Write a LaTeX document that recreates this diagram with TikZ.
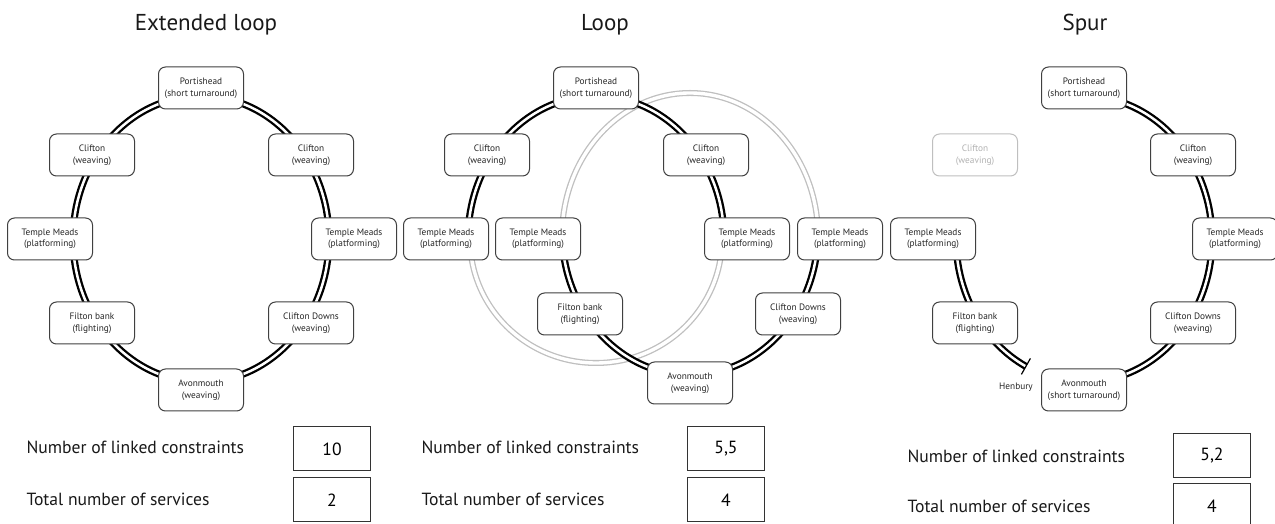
\documentclass[tikz,border=0pt]{standalone}
\usepackage{fontspec}
\setmainfont{PT Sans}
\usepackage{tikz}
\usetikzlibrary{calc}
\tikzset{
  stn/.style = {draw=black!75, fill=white, rounded corners=7pt, align=center,
    minimum width=85pt, minimum height=42pt, inner sep=1pt, line width=1pt,
    font=\fontsize{9.3}{11.5}\selectfont, text=black!85},% station box
  stn_off/.style = {stn, draw=black!25, text=black!30},% station not used
  trk/.style = {draw=black, double=white, line width=2.3pt,
    double distance=2.5pt},% track
  trk_g/.style = {draw=black!25, double=white, line width=1.3pt,
    double distance=3.4pt},% ghost track
  ttl/.style = {font=\fontsize{23}{27}\selectfont, text=black!90},
  lbl/.style = {anchor=west, font=\fontsize{17.6}{20}\selectfont, text=black!90},
  numbox/.style = {draw=black!80, line width=1pt, minimum width=77pt,
    minimum height=44pt, font=\fontsize{17.6}{20}\selectfont}
}

\begin{document}
\begin{tikzpicture}[x=1pt,y=1pt]
\useasboundingbox (0,0) rectangle (1275,524);
\coordinate (c_ext) at (201,285);
\coordinate (c_up) at (596,285);
\coordinate (c_lo) at (690,292);
\coordinate (c_gu) at (690,288);
\coordinate (c_spur) at (1084,285);

% tracks
\draw[trk] (c_ext) ellipse [x radius=128pt, y radius=143pt];
\draw[trk_g] ($(c_gu)+(180:128pt and 143pt)$)
  arc[start angle=180, end angle=0, x radius=128pt, y radius=143pt];
\draw[trk_g] ($(c_up)+(180:126pt and 124pt)$)
  arc[start angle=180, end angle=360, x radius=126pt, y radius=124pt];
\draw[trk] ($(c_up)+(180:128pt and 143pt)$)
  arc[start angle=180, end angle=0, x radius=128pt, y radius=143pt];
\draw[trk] ($(c_lo)+(180:128pt and 143pt)$)
  arc[start angle=180, end angle=360, x radius=128pt, y radius=143pt];
\draw[trk] ($(c_spur)+(90:128pt and 143pt)$)
  arc[start angle=90, end angle=-90, x radius=128pt, y radius=143pt];
\draw[trk] ($(c_spur)+(180:128pt and 143pt)$)
  arc[start angle=180, end angle=243, x radius=128pt, y radius=143pt]
  coordinate (henb_end);
\draw[line width=1.2pt] ($(henb_end)+(4.5,8)$) -- ($(henb_end)+(-4.5,-8)$);

% extended loop
\node[ttl] (ext_ttl) at (206,499) {Extended loop};
\node[stn] (ext_pt) at (201,436) {Portishead\\(short turnaround)};
\node[stn] (ext_cl) at (92,369) {Clifton\\(weaving)};
\node[stn] (ext_cr) at (311,369) {Clifton\\(weaving)};
\node[stn] (ext_tl) at (50,285) {Temple Meads\\(platforming)};
\node[stn] (ext_tr) at (354,285) {Temple Meads\\(platforming)};
\node[stn] (ext_fb) at (92,201) {Filton bank\\(flighting)};
\node[stn] (ext_cd) at (311,201) {Clifton Downs\\(weaving)};
\node[stn] (ext_av) at (201,134) {Avonmouth\\(weaving)};

% loop
\node[ttl] (loop_ttl) at (605,499) {Loop};
\node[stn] (loop_pt) at (596,436) {Portishead\\(short turnaround)};
\node[stn] (loop_cl) at (487,369) {Clifton\\(weaving)};
\node[stn] (loop_cr) at (706,369) {Clifton\\(weaving)};
\node[stn] (loop_tl) at (446,285) {Temple Meads\\(platforming)};
\node[stn] (loop_tl2) at (538,285) {Temple Meads\\(platforming)};
\node[stn] (loop_tr2) at (747,285) {Temple Meads\\(platforming)};
\node[stn] (loop_tr) at (840,285) {Temple Meads\\(platforming)};
\node[stn] (loop_fb) at (580,210) {Filton bank\\(flighting)};
\node[stn] (loop_cd) at (798,210) {Clifton Downs\\(weaving)};
\node[stn] (loop_av) at (690,141) {Avonmouth\\(weaving)};

% spur
\node[ttl] (spur_ttl) at (1085,499) {Spur};
\node[stn] (spur_pt) at (1084,436) {Portishead\\(short turnaround)};
\node[stn_off] (spur_cl) at (975,369) {Clifton\\(weaving)};
\node[stn] (spur_cr) at (1193,369) {Clifton\\(weaving)};
\node[stn] (spur_tl) at (933,285) {Temple Meads\\(platforming)};
\node[stn] (spur_tr) at (1235,285) {Temple Meads\\(platforming)};
\node[stn] (spur_fb) at (975,201) {Filton bank\\(flighting)};
\node[stn] (spur_cd) at (1193,201) {Clifton Downs\\(weaving)};
\node[stn] (spur_av) at (1084,134) {Avonmouth\\(short turnaround)};
\node[font=\fontsize{9.3}{11}\selectfont, text=black!85] (henb) at (1016,137) {Henbury};

% counts
\node[lbl] (ext_nl) at (23,77) {Number of linked constraints};
\node[numbox] (ext_nlv) at (332,75) {10};
\node[lbl] (ext_ns) at (23,25) {Total number of services};
\node[numbox] (ext_nsv) at (332,24) {2};
\node[lbl] (loop_nl) at (418,77) {Number of linked constraints};
\node[numbox] (loop_nlv) at (726,75) {5,5};
\node[lbl] (loop_ns) at (418,25) {Total number of services};
\node[numbox] (loop_nsv) at (726,24) {4};
\node[lbl] (spur_nl) at (904,68) {Number of linked constraints};
\node[numbox] (spur_nlv) at (1212,68) {5,2};
\node[lbl] (spur_ns) at (904,18) {Total number of services};
\node[numbox] (spur_nsv) at (1212,18) {4};
\end{tikzpicture}
\end{document}
